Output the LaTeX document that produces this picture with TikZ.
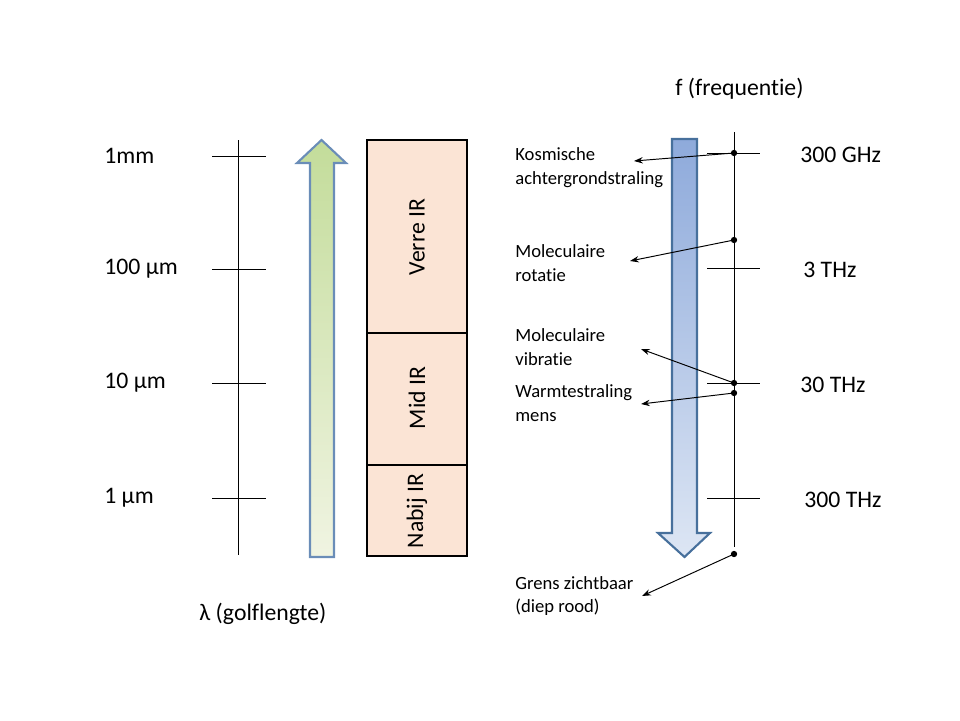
\documentclass[tikz,border=0pt]{standalone}
\usepackage{xcolor}
\usepackage{fontspec}
\setmainfont{Carlito}[Ligatures=NoCommon]
\usepackage{tikz}
\usetikzlibrary{positioning, calc, arrows.meta}

\definecolor{peach}{HTML}{FBE4D5}
\definecolor{greentop}{HTML}{C3DC9A}
\definecolor{greenbot}{HTML}{F0F4E2}
\definecolor{bluetop}{HTML}{8EAADB}
\definecolor{bluebot}{HTML}{DDE6F4}
\definecolor{greenrim}{HTML}{6A8DB8}
\definecolor{bluerim}{HTML}{47709C}

\begin{document}
\begin{tikzpicture}[x=0.02cm, y=-0.02cm,
    bandbox/.style={draw, line width=1.5pt, fill=peach},
    scalelab/.style={anchor=west, inner sep=0pt, font=\fontsize{13.5}{16}\selectfont},
    notelab/.style={anchor=west, align=left, inner sep=0pt, font=\fontsize{10.6}{13.6}\selectfont},
    dotmark/.style={circle, fill, inner sep=0pt, minimum size=3.6pt},
    pointer/.style={-{Stealth[length=5pt, width=3.6pt]}, line width=0.55pt}]
  \useasboundingbox (0,0) rectangle (960,720);

  % Wavelength axis
  \draw (238,140) -- (238,555);
  \foreach \y/\lab in {156/1mm, 269/100 µm, 383/10 µm, 498/1 µm} {
    \draw (212,\y) -- (266,\y);
    \node[scalelab] (wl\y) at (104,\y) {\lab};
  }
  \node[scalelab] (wltitle) at (199,614) {λ (golflengte)};

  % Green arrow (longer wavelength upwards)
  \draw[greenrim, line width=1.2pt, top color=greentop, bottom color=greenbot]
    (310,557) -- (310,163) -- (297,163) -- (321.5,140) -- (346,163)
    -- (334,163) -- (334,557) -- cycle;

  % IR bands
  \draw[bandbox] (367,140) rectangle (467,333);
  \draw[bandbox] (367,333) rectangle (467,465);
  \draw[bandbox] (367,465) rectangle (467,556);
  \node[rotate=90, font=\fontsize{13.5}{16}\selectfont] (far) at (417,237) {Verre IR};
  \node[rotate=90, font=\fontsize{13.5}{16}\selectfont] (mid) at (417,398) {Mid IR};
  \node[rotate=90, font=\fontsize{13.5}{16}\selectfont] (near) at (417,511) {Nabij IR};

  % Blue arrow (higher frequency downwards)
  \draw[bluerim, line width=1.2pt, top color=bluetop, bottom color=bluebot]
    (672,139) -- (697,139) -- (697,533) -- (710,533) -- (684.5,557)
    -- (658,533) -- (672,533) -- cycle;

  % Frequency axis
  \draw (734,132) -- (734,547);
  \foreach \y/\lab/\x in {153/300 GHz/800, 268/3 THz/803, 383/30 THz/800, 498/300 THz/804} {
    \draw (707,\y) -- (760,\y);
    \node[scalelab] (fq\y) at (\x,\y+2) {\lab};
  }
  \node[scalelab] (fqtitle) at (675,89) {f (frequentie)};

  % Marks on the frequency axis
  \node[dotmark] (cmb) at (734,153) {};
  \node[dotmark] (rot) at (734,240) {};
  \node[dotmark] (vib) at (734,383) {};
  \node[dotmark] (warm) at (734,393) {};
  \node[dotmark] (red) at (734,554) {};

  % Notes
  \node[notelab] (cmbtxt) at (515,168) {Kosmische\\achtergrondstraling};
  \node[notelab] (rottxt) at (515,263) {Moleculaire\\rotatie};
  \node[notelab] (vibtxt) at (515,347) {Moleculaire\\vibratie};
  \node[notelab] (warmtxt) at (515,403) {Warmtestraling\\mens};
  \node[notelab] (redtxt) at (515,596) {Grens zichtbaar\\(diep rood)};

  \coordinate (cmbend) at (634,161);
  \coordinate (rotend) at (630,261);
  \coordinate (vibend) at (641,349);
  \coordinate (warmend) at (641,404);
  \coordinate (redend) at (642,596);

  \draw[pointer] (cmb.center) -- (cmbend);
  \draw[pointer] (rot.center) -- (rotend);
  \draw[pointer] (vib.center) -- (vibend);
  \draw[pointer] (warm.center) -- (warmend);
  \draw[pointer] (red.center) -- (redend);
\end{tikzpicture}
\end{document}
